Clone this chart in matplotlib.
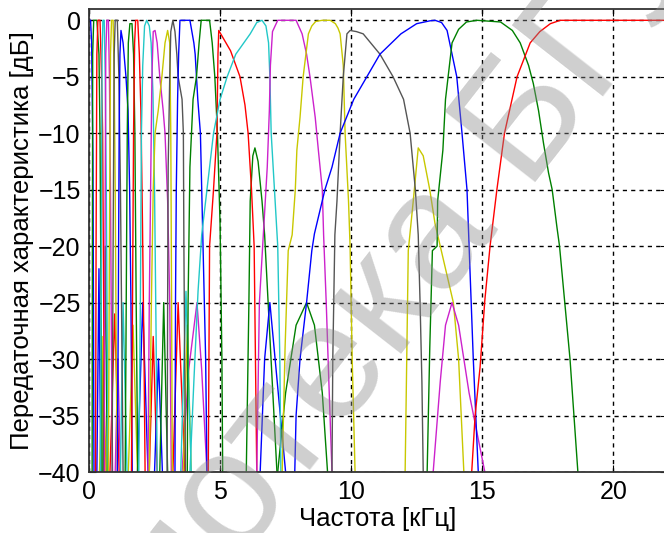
import matplotlib
matplotlib.use("Agg")
import matplotlib.pyplot as plt

plt.rcParams["font.family"] = ["Liberation Sans", "DejaVu Sans"]

# main lobes of the filter bank, frequencies in kHz and levels in dB
lobe_colors = ["b", "g", "r", "c", "m", "y", "k"] * 3 + ["b", "g", "r"]

lobe_khz = [
    [0.0, 0.06, 0.10, 0.13, 0.15, 0.17, 0.19],
    [0.12, 0.13, 0.14, 0.18, 0.30, 0.38, 0.42, 0.46, 0.50],
    [0.25, 0.27, 0.30, 0.34, 0.42, 0.48, 0.52, 0.56, 0.60],
    [0.44, 0.47, 0.50, 0.53, 0.58, 0.62, 0.66, 0.70, 0.73],
    [0.58, 0.61, 0.64, 0.68, 0.74, 0.78, 0.82, 0.86, 0.90],
    [0.74, 0.78, 0.82, 0.86, 0.92, 0.96, 1.00, 1.04, 1.08],
    [0.88, 0.92, 0.96, 1.00, 1.08, 1.14, 1.20, 1.26, 1.30],
    [1.08, 1.12, 1.15, 1.18, 1.22, 1.30, 1.41, 1.49, 1.55, 1.60, 1.65],
    [1.38, 1.42, 1.46, 1.50, 1.56, 1.64, 1.70, 1.75, 1.80, 1.86],
    [1.62, 1.66, 1.70, 1.74, 1.78, 1.86, 1.92, 1.98, 2.04, 2.10, 2.14],
    [1.90, 1.96, 2.00, 2.05, 2.12, 2.20, 2.30, 2.37, 2.44, 2.50, 2.56, 2.60],
    [2.25, 2.30, 2.35, 2.40, 2.45, 2.52, 2.60, 2.70, 2.83, 2.90, 3.00, 3.08, 3.14],
    [2.30, 2.38, 2.45, 2.52, 2.64, 2.78, 2.90, 3.00, 3.08, 3.12, 3.15, 3.18],
    [2.98, 3.00, 3.02, 3.08, 3.12, 3.20, 3.28, 3.35, 3.40, 3.55, 3.60, 3.62, 3.65, 3.68],
    [3.28, 3.30, 3.33, 3.38, 3.42, 3.47, 3.85, 4.00, 4.05, 4.15, 4.25, 4.35, 4.45, 4.50],
    [3.75, 3.78, 3.85, 3.97, 4.10, 4.20, 4.28, 4.60, 4.70, 4.80, 4.90, 5.00, 5.07, 5.10],
    [4.55, 4.60, 4.75, 4.88, 4.92, 4.95, 5.10, 5.40, 5.76, 5.95, 6.07, 6.20, 6.30, 6.35, 6.40],
    [3.85, 4.00, 4.16, 4.30, 4.50, 4.75, 5.00, 5.27, 5.60, 6.15, 6.40, 6.60, 6.75, 6.85, 6.90,
     6.95, 7.10, 7.20, 7.28, 7.32],
    [6.40, 6.50, 6.70, 6.80, 6.88, 6.92, 7.00, 7.20, 7.90, 8.13, 8.30, 8.43, 8.63, 8.75, 8.90,
     8.95, 9.05, 9.15, 9.27],
    [7.37, 7.48, 7.60, 7.75, 7.87, 7.93, 8.05, 8.17, 8.37, 8.50, 8.65, 8.90, 9.20, 9.40, 9.50,
     9.58, 9.70, 9.77, 9.90, 9.96, 10.04, 10.15],
    [9.27, 9.30, 9.38, 9.46, 9.58, 9.70, 9.84, 9.96, 10.20, 10.46, 11.10, 11.60, 12.00, 12.25,
     12.45, 12.56, 12.63, 12.70, 12.75],
    [7.85, 7.90, 8.05, 8.30, 8.50, 8.60, 9.00, 9.27, 9.58, 10.10, 10.60, 11.10, 11.90, 12.50,
     13.00, 13.20, 13.45, 13.66, 13.85, 14.03, 14.23, 14.42, 14.50, 14.66, 14.85],
    [12.90, 13.00, 13.10, 13.28, 13.30, 13.50, 13.60, 13.85, 14.10, 14.40, 14.80, 15.70, 16.15,
     16.45, 16.77, 16.95, 17.15, 17.34, 17.53, 17.67, 17.85, 17.95, 18.15, 18.35, 18.50, 18.65],
    [14.60, 14.73, 14.92, 15.10, 15.30, 15.56, 15.85, 16.33, 16.83, 17.20, 17.60, 17.98, 22.05],
]

lobe_db = [
    [0, 0, -2, -8, -12, -25, -40],
    [-40, -20, -3, 0, 0, -3, -10, -25, -40],
    [-40, -20, -3, 0, 0, -5, -10, -25, -40],
    [-40, -20, -3, 0, 0, -5, -15, -30, -40],
    [-40, -20, -3, 0, 0, -5, -15, -30, -40],
    [-40, -20, -3, 0, 0, -5, -15, -30, -40],
    [-40, -20, -3, 0, 0, -5, -15, -30, -40],
    [-40, -25, -10, -3, -0.9, -2, -5, -8, -15, -25, -40],
    [-40, -25, -10, -2, -0.3, -0.3, -3, -10, -25, -40],
    [-40, -25, -10, -2, 0, 0, -3, -8, -18, -30, -40],
    [-40, -25, -10, -4, -0.5, 0, -0.5, -2, -6.5, -15, -28, -40],
    [-40, -25, -15, -5, -1, -0.9, -2, -5, -8, -10, -16, -25, -40],
    [-40, -25, -15, -10, -8, -5, -2, -0.9, -2, -10, -25, -40],
    [-40, -25, -13, -5, -1, 0, -1, -3, -5, -7, -10, -20, -30, -40],
    [-40, -25, -15, -7, -3, 0, 0, -2, -3, -7, -10, -20, -30, -40],
    [-40, -25, -13, -7, -5, -2, 0, 0, -2, -5, -10, -18, -30, -40],
    [-40, -20, -15, -10, -3, -0.9, -1.5, -2.7, -5, -7.5, -10, -15, -20, -30, -40],
    [-40, -32, -24, -19, -15, -10, -7, -5, -3, -1.2, -0.2, 0, -0.5, -2, -5,
     -10, -16, -20, -30, -40],
    [-40, -25, -17, -13, -8, -4, -1, 0, 0, -1.2, -3, -5, -8.6, -11.5, -15,
     -19, -25, -32, -40],
    [-40, -29, -20.4, -19, -15, -11.5, -8.6, -5, -1.2, -0.5, -0.1, 0, 0, -0.3, -0.7,
     -1.2, -4, -10, -16, -20, -30, -40],
    [-40, -30, -19, -16, -10, -5, -1.2, -0.9, -1.0, -1.2, -3, -5, -7, -10,
     -15, -19, -25, -32, -40],
    [-40, -35, -30, -25, -20.4, -18.9, -15, -13, -10, -7, -5, -3, -1.2, -0.3,
     -0.05, 0, -0.2, -0.9, -3, -5, -10, -15, -20, -30, -40],
    [-40, -29, -20.4, -20, -16, -11.5, -7, -2, -0.8, -0.15, 0, -0.15, -0.9,
     -2, -4, -5.6, -8, -10.9, -13.5, -15, -18.3, -20, -25, -30, -35, -40],
    [-40, -35, -30.7, -24.8, -20, -15, -10, -5, -2, -1, -0.3, 0, 0],
]

# side lobes that stick out of the stop bands
side_colors = ["m", "r", "y", "g", "b", "g", "y", "m", "b", "r", "y",
               "y", "g", "b", "m", "c", "r", "b", "y", "g", "c"]

side_khz = [
    [3.55, 3.80, 4.12, 4.30, 4.50],
    [3.20, 3.40, 3.66],
    [12.06, 12.18, 12.37, 12.56, 12.75, 13.00, 13.20, 13.50, 13.90, 14.10, 14.30],
    [6.00, 6.10, 6.15, 6.25, 6.33, 6.45, 6.60, 6.70, 6.90, 7.17],
    [6.53, 6.70, 6.90, 7.10, 7.50],
    [7.20, 7.50, 7.90, 8.30, 8.60, 8.90, 9.10],
    [1.50, 1.68, 1.85],
    [13.13, 13.40, 13.60, 13.85, 14.10, 14.50, 15.10],
    [1.85, 2.05, 2.25],
    [0.80, 0.98, 1.15],
    [0.40, 0.52, 0.66],
    [0.45, 0.50, 0.55],
    [0.55, 0.62, 0.70],
    [0.30, 0.38, 0.45],
    [1.00, 1.10, 1.20],
    [1.20, 1.30, 1.45],
    [2.30, 2.45, 2.60],
    [2.50, 2.65, 2.80],
    [3.60, 3.75, 3.90],
    [2.70, 2.85, 3.00],
    [3.50, 3.70, 3.90],
]

side_db = [
    [-40, -31, -25, -31, -40],
    [-40, -25, -40],
    [-40, -20.4, -16, -11.3, -12, -15, -18, -21, -25, -30, -40],
    [-40, -25, -16, -12, -11.3, -12.5, -16, -19, -28, -40],
    [-40, -30, -25, -30, -40],
    [-40, -33, -27, -25, -27, -33, -40],
    [-40, -27, -40],
    [-40, -32, -27, -25, -27, -33, -40],
    [-40, -25, -40],
    [-40, -26, -40],
    [-40, -30, -40],
    [-40, -28, -40],
    [-40, -20, -40],
    [-40, -22, -40],
    [-40, -30, -40],
    [-40, -25, -40],
    [-40, -28, -40],
    [-40, -30, -40],
    [-40, -27, -40],
    [-40, -25, -40],
    [-40, -24, -40],
]

x_ticks = [0, 5, 10, 15, 20]
y_ticks = [0, -5, -10, -15, -20, -25, -30, -35, -40]

colors = {"b": "#0000ff", "g": "#008000", "r": "#ff0000", "c": "#22c8c8",
          "m": "#cc22cc", "y": "#c8c800", "k": "#555555"}

fig = plt.figure(figsize=(6.64, 5.33), dpi=100)
ax = fig.add_axes([89 / 664, 61 / 533, 578 / 664, 463 / 533])

for fr, lv, c in zip(side_khz, side_db, side_colors):
    ax.plot(fr, lv, color=colors[c], lw=1.0)
for fr, lv, c in zip(lobe_khz, lobe_db, lobe_colors):
    ax.plot(fr, lv, color=colors[c], lw=1.0)

ax.set_xlim(0, 22.05)
ax.set_ylim(-40, 1)
ax.set_xticks(x_ticks)
ax.set_yticks(y_ticks)
ax.grid(True, color="black", linestyle=(0, (3, 3)), lw=1.0)
ax.tick_params(direction="in", top=True, right=True, length=5, labelsize=18, pad=6)
for s in ax.spines.values():
    s.set_linewidth(1.3)
    s.set_color("#333333")

ax.set_xlabel("Частота [кГц]", fontsize=18.5, labelpad=2)
ax.set_ylabel("Передаточная характеристика [дБ]", fontsize=18.5, labelpad=3)

# watermark
fig.text(0.55, 0.381, "Библиотека БГУИР", fontsize=120, rotation=52,
         ha="center", va="center", color="0.55", alpha=0.42)

fig.savefig("out.png", dpi=100)
